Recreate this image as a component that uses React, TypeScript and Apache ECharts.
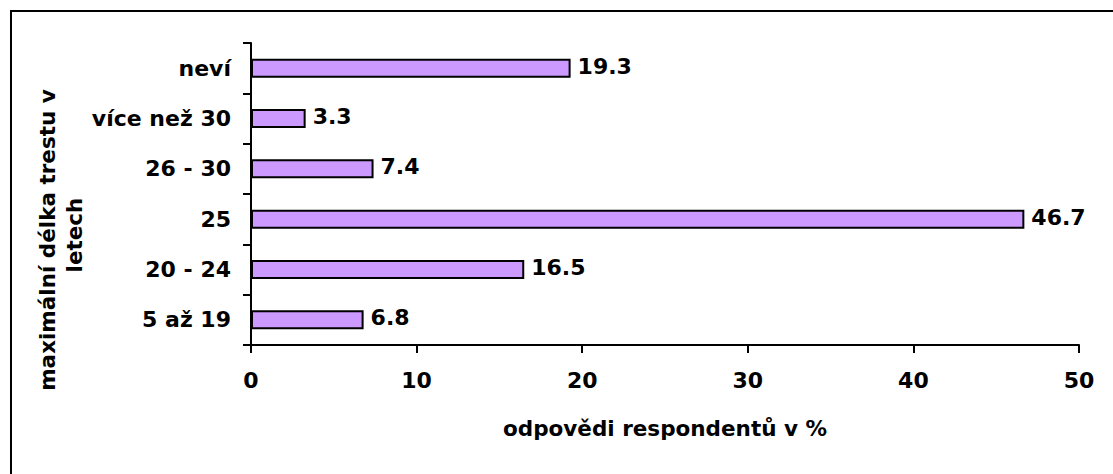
import React, { useEffect, useRef } from "react";
import * as echarts from "echarts";

const categories = ["5 až 19", "20 - 24", "25", "26 - 30", "více než 30", "neví"];
const values = [6.8, 16.5, 46.7, 7.4, 3.3, 19.3];
const xTicks = { min: 0, max: 50, interval: 10 };
const xAxisTitle = "odpovědi respondentů v %";
const yAxisTitleLines = ["maximální délka trestu v", "letech"];

const FONT = "DejaVu Sans";
const FS = 22;
const TFS = 21.5;

export default function App() {
  const ref = useRef<HTMLDivElement>(null);
  useEffect(() => {
    if (!ref.current) return;
    const chart = echarts.init(ref.current, undefined, { renderer: "svg" });
    chart.setOption({
      animation: false,
      backgroundColor: "#ffffff",
      grid: { left: 251, right: 34, top: 43, bottom: 129, containLabel: false },
      xAxis: {
        type: "value",
        min: xTicks.min,
        max: xTicks.max,
        interval: xTicks.interval,
        name: xAxisTitle,
        nameLocation: "middle",
        nameGap: 72,
        nameTextStyle: { fontFamily: FONT, fontWeight: "bold", fontSize: TFS, color: "#000" },
        axisLine: { show: true, lineStyle: { color: "#000", width: 2 } },
        axisTick: { show: true, length: 8, lineStyle: { color: "#000", width: 2 } },
        axisLabel: { margin: 24, fontFamily: FONT, fontWeight: "bold", fontSize: FS, color: "#000" },
        splitLine: { show: false },
      },
      yAxis: {
        type: "category",
        data: categories,
        axisLine: { show: true, lineStyle: { color: "#000", width: 2 } },
        axisTick: { show: true, length: 8, alignWithLabel: false, lineStyle: { color: "#000", width: 2 } },
        axisLabel: { margin: 20, fontFamily: FONT, fontWeight: "bold", fontSize: FS, color: "#000" },
        splitLine: { show: false },
      },
      series: [
        {
          type: "bar",
          data: values,
          barWidth: 19,
          itemStyle: { color: "#CC99FF", borderColor: "#000", borderWidth: 2 },
          label: {
            show: true,
            position: "right",
            distance: 7,
            offset: [0, -2],
            fontFamily: FONT,
            fontWeight: "bold",
            fontSize: FS,
            color: "#000",
            formatter: (p: any) => String(p.value),
          },
        },
      ],
      graphic: [
        {
          type: "rect",
          shape: { x: 11, y: 11, width: 1300, height: 700 },
          style: { fill: "none", stroke: "#000", lineWidth: 2 },
          silent: true,
        },
        {
          type: "text",
          x: 47,
          y: 240,
          rotation: Math.PI / 2,
          style: {
            text: yAxisTitleLines[0],
            font: `bold ${TFS}px "${FONT}"`,
            fill: "#000",
            align: "center",
            verticalAlign: "middle",
          },
        },
        {
          type: "text",
          x: 74,
          y: 235,
          rotation: Math.PI / 2,
          style: {
            text: yAxisTitleLines[1],
            font: `bold ${TFS}px "${FONT}"`,
            fill: "#000",
            align: "center",
            verticalAlign: "middle",
          },
        },
      ],
    });
    return () => chart.dispose();
  }, []);
  return (
    <div
      ref={ref}
      style={{ position: "absolute", left: 0, top: 0, width: 1113, height: 474 }}
    />
  );
}
